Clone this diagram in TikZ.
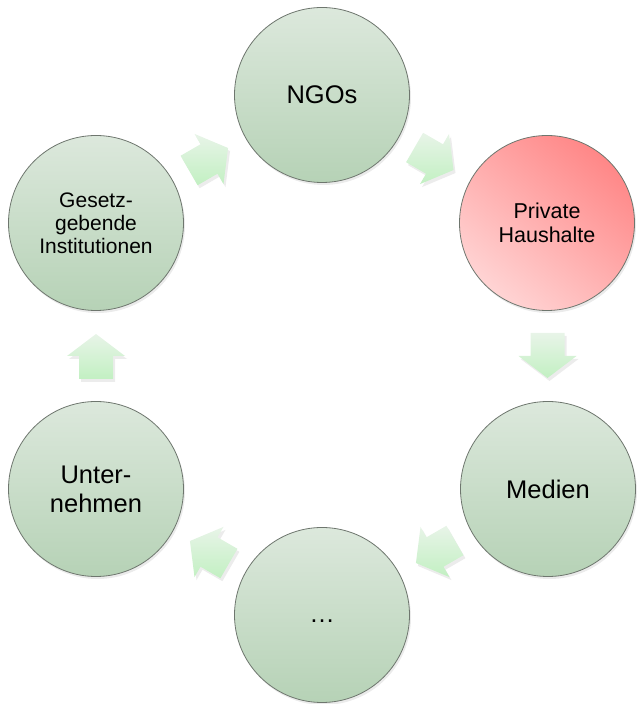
\documentclass[tikz,border=0pt]{standalone}
\usepackage{fontspec}
\setmainfont{Liberation Sans}
\usetikzlibrary{shadows,calc}
\definecolor{gtop}{RGB}{220,232,220}
\definecolor{gbot}{RGB}{182,210,182}
\definecolor{ptop}{RGB}{255,135,135}
\definecolor{pbot}{RGB}{255,212,212}
\definecolor{edge}{RGB}{110,118,110}
\definecolor{atop}{RGB}{232,244,232}
\definecolor{abot}{RGB}{194,240,194}
\begin{document}
\begin{tikzpicture}[x=1pt,y=1pt,
  cyc/.style={circle, minimum size=175pt, inner sep=0pt, draw=edge, line width=0.8pt,
    top color=gtop, bottom color=gbot, align=center,
    drop shadow={opacity=0.16, shadow xshift=1.5pt, shadow yshift=-2.5pt},
    font=\fontsize{25.5}{29}\selectfont},
  pink/.style={top color=ptop, bottom color=pbot, shading angle=-40},
  arr/.style={top color=atop, bottom color=abot, draw=none,
    drop shadow={opacity=0.15, shadow xshift=2pt, shadow yshift=-3pt}}]
\useasboundingbox (0,0) rectangle (638,704);
\node[cyc] (ngo) at (322,609) {NGOs};
\node[cyc, pink, font=\fontsize{21.5}{24}\selectfont] (pri) at (547,481) {Private\\Haushalte};
\node[cyc] (med) at (548,215) {Medien};
\node[cyc, text height=16pt, text depth=0pt] (dots) at (322,89) {…};
\node[cyc] (unt) at (96,215) {Unter-\\nehmen};
\node[cyc, font=\fontsize{21}{23}\selectfont] (ges) at (96,481) {Gesetz-\\gebende\\Institutionen};
\newcommand\cycarrow[3]{%
  \shade[arr, shift={($(#1)!0.5!(#2)$)}, rotate=#3]
    (-23,-17) -- (0,-17) -- (0,-29) -- (22,0) -- (0,29) -- (0,17) -- (-23,17) -- cycle;}
\cycarrow{ges}{ngo}{30}
\cycarrow{ngo}{pri}{-30}
\cycarrow{pri}{med}{-90}
\cycarrow{med}{dots}{-150}
\cycarrow{dots}{unt}{150}
\cycarrow{unt}{ges}{90}
\end{tikzpicture}
\end{document}
